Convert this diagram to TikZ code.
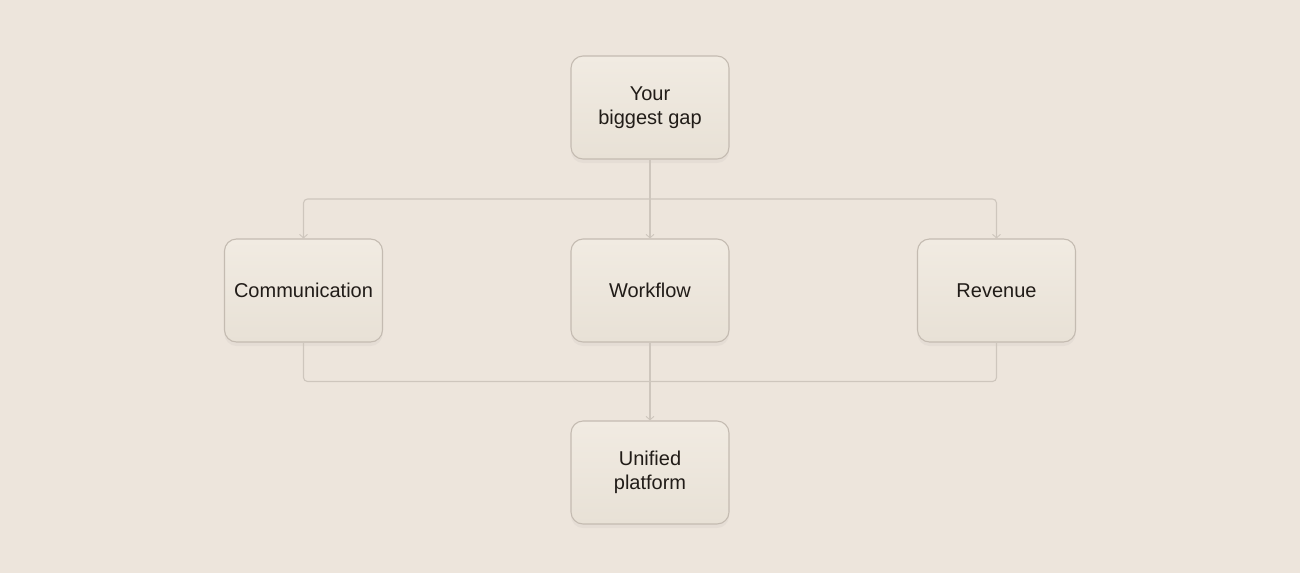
\documentclass[tikz,border=0pt]{standalone}
\usepackage{fontspec}
\setmainfont{Liberation Sans}
\usetikzlibrary{positioning, calc, shadows, arrows.meta}
\definecolor{gapbg}{RGB}{237,229,220}
\definecolor{gapboxtop}{RGB}{241,235,226}
\definecolor{gapboxbot}{RGB}{232,225,214}
\definecolor{gapedge}{RGB}{196,187,177}
\definecolor{gapline}{RGB}{206,198,189}
\definecolor{gapink}{RGB}{33,28,24}

\tikzset{
    gapbox/.style={draw=gapedge, line width=1.1pt, rounded corners=12pt,
        minimum width=158pt, minimum height=103pt, inner sep=0pt, align=center,
        top color=gapboxtop, bottom color=gapboxbot, text=gapink,
        font=\fontsize{20}{23.5}\selectfont,
        drop shadow={opacity=0.07, shadow xshift=0pt, shadow yshift=-4pt}},
    gaplink/.style={draw=gapline, line width=1.1pt, rounded corners=4pt},
    gaptip/.style={-{Straight Barb[length=3.5pt, width=8pt, line width=0.9pt]}}
}

\begin{document}
\begin{tikzpicture}[x=1pt, y=-1pt]
        \fill[gapbg] (0,0) rectangle (1300,573);
        \useasboundingbox (0,0) rectangle (1300,573);

        \node (gap)     [gapbox] at (650,107.5) {Your\\biggest gap};

        \node (comm)    [gapbox] at (303.5,290.5) {Communication};
        \node (work)    [gapbox] at (650,290.5)   {Workflow};
        \node (rev)     [gapbox] at (996.5,290.5) {Revenue};

        \node (unified) [gapbox] at (650,472.5) {Unified\\platform};

        \coordinate (split) at ($(gap.south)!0.5!(work.north)$);
        \coordinate (merge) at ($(work.south)!0.5!(unified.north)$);

        % fan out
        \draw [gaplink, gaptip] (gap)   -- (work);
        \draw [gaplink, gaptip] (split) -| (comm.north);
        \draw [gaplink, gaptip] (split) -| (rev.north);

        % fan in
        \draw [gaplink] (comm.south) |- (merge);
        \draw [gaplink] (rev.south)  |- (merge);
        \draw [gaplink, gaptip] (work) -- (unified);
    \end{tikzpicture}
\end{document}
